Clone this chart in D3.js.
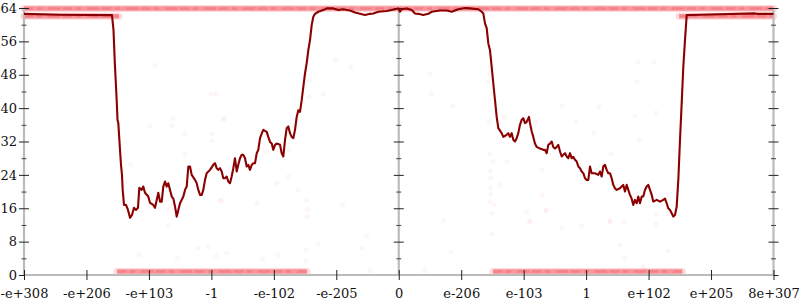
<!DOCTYPE html>
<html>
<head>
<meta charset="utf-8">
<script src="https://cdn.jsdelivr.net/npm/d3@7"></script>
<style>
  html, body { margin: 0; padding: 0; background: #fff; }
  svg { display: block; }
  text { font-family: "DejaVu Serif", serif; font-size: 13px; fill: #111; }
</style>
</head>
<body>
<svg id="chart" width="800" height="300"></svg>
<script>
// ---- data ----
// x positions are expressed in tick-index units (-6 .. 6), y in bits (0 .. 64)
const xTickValues = [-6, -5, -4, -3, -2, -1, 0, 1, 2, 3, 4, 5, 6];
const xTickLabels = ["-e+308", "-e+206", "-e+103", "-1", "-e-102", "-e-205", "0",
                     "e-206", "e-103", "1", "e+102", "e+205", "8e+307"];
const yMajorTicks = [0, 8, 16, 24, 32, 40, 48, 56, 64];
const yMinorTicks = [4, 12, 20, 28, 36, 44, 52, 60];

// mean line: [x, y]
const meanLine = [
  [-6,62.6],[-5.423,62.4],[-4.591,62.3],[-4.567,58.7],[-4.548,51.5],[-4.516,41.9],[-4.503,37.2],
  [-4.49,36.4],[-4.463,30.0],[-4.447,26.4],[-4.431,24.0],[-4.42,20.4],[-4.399,16.8],[-4.367,16.8],
  [-4.335,15.6],[-4.303,13.7],[-4.271,14.4],[-4.239,16.1],[-4.207,15.6],[-4.175,16.1],[-4.154,20.9],
  [-4.115,20.4],[-4.09,21.2],[-4.063,19.7],[-4.01,18.8],[-3.983,17.3],[-3.93,16.8],[-3.903,16.1],
  [-3.875,18.0],[-3.85,19.7],[-3.822,17.6],[-3.795,17.6],[-3.77,21.2],[-3.742,22.4],[-3.715,21.2],
  [-3.69,22.0],[-3.662,20.4],[-3.635,18.8],[-3.609,18.3],[-3.582,16.4],[-3.555,14.0],[-3.529,15.6],
  [-3.502,17.2],[-3.449,18.8],[-3.422,20.4],[-3.395,21.2],[-3.369,26.0],[-3.342,26.0],[-3.315,24.0],
  [-3.262,22.8],[-3.235,22.0],[-3.209,20.4],[-3.182,19.2],[-3.155,19.2],[-3.129,20.4],[-3.102,22.8],
  [-3.075,24.4],[-3.022,25.2],[-2.969,26.4],[-2.942,26.8],[-2.915,25.6],[-2.889,25.2],[-2.862,25.6],
  [-2.835,24.8],[-2.809,23.2],[-2.782,23.2],[-2.755,23.6],[-2.729,22.4],[-2.702,22.0],[-2.675,23.6],
  [-2.649,25.6],[-2.622,28.0],[-2.594,24.8],[-2.569,26.4],[-2.542,28.0],[-2.514,28.8],[-2.489,28.8],
  [-2.462,28.0],[-2.434,26.0],[-2.409,26.4],[-2.382,25.2],[-2.354,26.4],[-2.329,26.8],[-2.301,26.8],
  [-2.274,29.2],[-2.249,30.0],[-2.221,32.8],[-2.194,33.9],[-2.169,34.8],[-2.114,34.3],[-2.089,33.1],
  [-2.061,31.9],[-2.034,31.5],[-2.009,30.0],[-1.981,31.2],[-1.954,31.5],[-1.901,31.2],[-1.874,29.2],
  [-1.848,28.4],[-1.821,32.4],[-1.794,35.2],[-1.768,35.6],[-1.741,34.0],[-1.714,33.1],[-1.688,32.8],
  [-1.661,34.8],[-1.634,37.9],[-1.608,39.5],[-1.581,39.1],[-1.554,41.9],[-1.528,45.1],[-1.501,48.3],
  [-1.474,50.8],[-1.448,53.9],[-1.421,56.3],[-1.394,59.9],[-1.368,61.9],[-1.341,62.6],[-1.288,63.1],
  [-1.208,63.5],[-1.154,63.9],[-1.048,63.9],[-0.968,63.5],[-0.888,63.7],[-0.781,63.4],[-0.7,62.9],
  [-0.62,62.6],[-0.54,62.3],[-0.46,62.6],[-0.407,62.7],[-0.327,63.1],[-0.193,63.3],[-0.06,63.7],
  [-0.007,63.9],[0.02,63.1],[0.047,63.7],[0.127,63.9],[0.207,63.5],[0.26,62.7],[0.313,62.6],
  [0.393,62.3],[0.473,62.6],[0.528,63.1],[0.66,63.4],[0.768,63.4],[0.848,63.1],[0.953,63.7],
  [1.061,64.0],[1.141,63.9],[1.274,63.7],[1.328,63.1],[1.354,62.7],[1.381,60.3],[1.408,59.2],
  [1.434,55.5],[1.461,53.9],[1.488,49.9],[1.514,45.9],[1.541,41.9],[1.568,37.9],[1.594,35.2],
  [1.648,34.0],[1.674,33.1],[1.728,33.6],[1.754,34.0],[1.781,33.1],[1.808,34.0],[1.834,32.4],
  [1.861,32.0],[1.888,32.8],[1.914,34.0],[1.941,36.0],[1.968,37.2],[1.994,37.6],[2.021,36.4],
  [2.048,36.7],[2.085,37.9],[2.101,36.4],[2.129,34.4],[2.154,33.1],[2.181,31.5],[2.209,30.7],
  [2.261,30.3],[2.314,30.0],[2.341,30.0],[2.369,29.2],[2.394,31.2],[2.422,31.5],[2.449,32.0],
  [2.474,30.7],[2.502,30.3],[2.529,30.7],[2.554,31.2],[2.582,29.6],[2.609,28.4],[2.634,28.8],
  [2.662,29.2],[2.689,28.4],[2.715,28.0],[2.742,29.2],[2.769,28.0],[2.795,28.3],[2.822,27.6],
  [2.849,27.2],[2.875,26.0],[2.902,25.6],[2.929,24.8],[2.955,24.4],[2.982,23.2],[3.009,22.8],
  [3.035,22.8],[3.062,26.0],[3.089,24.4],[3.142,24.4],[3.195,24.0],[3.222,24.8],[3.249,23.6],
  [3.275,26.0],[3.302,26.4],[3.329,25.2],[3.355,24.4],[3.382,24.4],[3.409,23.2],[3.435,21.6],
  [3.462,20.8],[3.489,20.4],[3.542,20.8],[3.569,21.2],[3.595,21.6],[3.622,20.0],[3.649,21.6],
  [3.675,20.4],[3.702,19.2],[3.729,18.3],[3.755,16.8],[3.782,18.0],[3.81,17.2],[3.835,18.8],
  [3.862,17.2],[3.89,18.8],[3.915,18.8],[3.942,20.4],[3.97,21.2],[3.995,21.6],[4.023,20.4],
  [4.05,19.2],[4.075,17.6],[4.13,18.0],[4.183,17.6],[4.235,18.0],[4.263,18.3],[4.29,17.2],
  [4.315,16.0],[4.343,15.6],[4.37,14.8],[4.396,14.0],[4.423,14.4],[4.45,16.4],[4.476,22.8],
  [4.503,32.4],[4.53,41.2],[4.556,49.9],[4.583,56.3],[4.61,62.3],[4.823,62.4],[5.704,62.7],
  [5.752,62.6],[6,62.6]
];

// dense bands of samples: [xStart, xEnd, y]
const sampleBands = [
  [-6, 6, 63.9],
  [-6, -4.48, 62.0],
  [4.49, 6, 62.0],
  [-4.51, -1.47, 0.85],
  [1.51, 4.54, 0.85]
];

// sparse scattered samples: [x, y]
const sparseSamples = [
  [-3.983,35.8],[-3.635,35.8],[-3.422,33.8],[-2.995,33.8],[-2.995,32.1],[-2.809,37.2],[-3.422,29.0],
  [-4.292,26.5],[-2.114,29.6],[-1.768,30.0],[-1.768,23.6],[-1.954,22.0],[-1.608,20.4],[-2.862,18.0],
  [-2.274,17.2],[-3.69,15.6],[-3.69,12.0],[-3.903,50.3],[-3.006,43.3],[-2.926,43.5],[-1.421,46.6],
  [-1.432,42.7],[-1.208,43.4],[-2.798,37.6],[-3.619,37.5],[-2.835,17.8],[-1.474,18.0],[-1.464,15.7],
  [-1.464,14.0],[-0.897,16.8],[-0.513,9.3],[-0.584,6.4],[-1.288,7.5],[-1.485,6.0],[-1.485,3.4],
  [-1.928,4.8],[-2.755,5.3],[-2.926,4.6],[-3.049,6.8],[-2.178,3.8],[-0.46,1.0],[-4.154,4.8],
  [-3.545,4.0],[-3.209,6.4],[1.461,17.6],[1.53,16.8],[1.488,14.8],[1.488,9.8],[0.713,13.0],
  [0.837,5.6],[2.048,15.0],[2.09,12.8],[2.357,15.4],[2.609,11.4],[2.929,11.7],[0.42,1.0],
  [3.382,12.8],[3.606,12.8],[4.119,14.6],[4.119,12.2],[3.542,7.2],[4.316,5.8],[3.622,4.2],
  [3.915,2.0],[2.609,40.5],[3.211,40.3],[3.782,38.2],[4.119,38.9],[1.685,37.9],[1.45,36.7],
  [2.838,36.9],[2.197,36.7],[3.126,34.0],[3.862,32.5],[1.461,29.0],[1.504,27.2],[1.728,27.2],
  [3.393,29.0],[2.289,25.3],[1.472,25.0],[1.472,23.2],[1.621,21.6],[1.472,21.0],[1.472,19.4],
  [2.289,19.2],[2.357,15.5],[2.101,12.8],[3.382,13.0],[0.5,48.3],[0.528,43.4],[0.864,40.5],
  [1.461,48.2],[1.434,46.3],[3.835,51.1],[4.091,51.1],[3.81,46.3],[-1.005,51.5],[-0.765,49.9],
  [4.45,22.0]
];

// ---- chart ----
const svg = d3.select("#chart");
const x = d3.scaleLinear().domain([-6, 6]).range([24, 773.5]);
const y = d3.scaleLinear().domain([0, 64]).range([275, 8]);

const bandColor = "#ee2a35";

// bands
const bandG = svg.append("g");
sampleBands.forEach(b => {
  bandG.append("line")
    .attr("x1", x(b[0])).attr("x2", x(b[1]))
    .attr("y1", y(b[2])).attr("y2", y(b[2]))
    .attr("stroke", bandColor).attr("stroke-width", 7)
    .attr("stroke-linecap", "round").attr("stroke-opacity", 0.18);
  bandG.append("line")
    .attr("x1", x(b[0])).attr("x2", x(b[1]))
    .attr("y1", y(b[2])).attr("y2", y(b[2]))
    .attr("stroke", bandColor).attr("stroke-width", 4.5)
    .attr("stroke-opacity", 0.38);
  bandG.append("line")
    .attr("x1", x(b[0])).attr("x2", x(b[1]))
    .attr("y1", y(b[2])).attr("y2", y(b[2]))
    .attr("stroke", bandColor).attr("stroke-width", 2.5)
    .attr("stroke-dasharray", "9 4 5 6 12 3")
    .attr("stroke-opacity", 0.2);
});

// sparse samples
svg.append("g").selectAll("circle").data(sparseSamples).join("circle")
  .attr("cx", d => x(d[0])).attr("cy", d => y(d[1]))
  .attr("r", 2.5).attr("fill", bandColor).attr("fill-opacity", 0.045);

// y axes (left, middle, right)
function vAxis(xPos, withLabels) {
  const g = svg.append("g").attr("transform", `translate(${xPos},0)`);
  g.append("line").attr("x1", 0).attr("x2", 0).attr("y1", y(64)).attr("y2", y(0))
    .attr("stroke", "#bbb").attr("stroke-width", 2.2);
  const ax = d3.axisLeft(y).tickValues(yMajorTicks).tickSize(5).tickPadding(2)
    .tickFormat(withLabels ? d3.format("d") : () => "");
  const ag = g.append("g").call(ax);
  ag.select(".domain").remove();
  ag.selectAll(".tick line").attr("x1", 5).attr("x2", -5).attr("stroke", "#222");
  ag.selectAll(".tick text").attr("font-family", "DejaVu Serif").attr("font-size", 13).attr("fill", "#111");
  const mg = g.append("g").call(d3.axisLeft(y).tickValues(yMinorTicks).tickSize(2.5).tickFormat(() => ""));
  mg.select(".domain").remove();
  mg.selectAll(".tick line").attr("x1", 2.5).attr("x2", -2.5).attr("stroke", "#444");
}
vAxis(x(-6), true);
vAxis(x(0), false);
vAxis(x(6), false);

// x axis
const xg = svg.append("g").attr("transform", `translate(0,${y(0)})`);
xg.append("line").attr("x1", x(-6)).attr("x2", x(6)).attr("y1", 0).attr("y2", 0)
  .attr("stroke", "#bbb").attr("stroke-width", 2.2);
const xa = xg.append("g").call(
  d3.axisBottom(x).tickValues(xTickValues).tickSize(5).tickPadding(9)
    .tickFormat((d, i) => xTickLabels[i]));
xa.select(".domain").remove();
xa.selectAll(".tick line").attr("y1", -5).attr("y2", 5).attr("stroke", "#222");
xa.selectAll(".tick text").attr("font-family", "DejaVu Serif").attr("font-size", 13).attr("fill", "#111");

// mean line
svg.append("path")
  .datum(meanLine)
  .attr("d", d3.line().x(d => x(d[0])).y(d => y(d[1])))
  .attr("fill", "none").attr("stroke", "#8b0000").attr("stroke-width", 2.1)
  .attr("stroke-linejoin", "round");
</script>
</body>
</html>
